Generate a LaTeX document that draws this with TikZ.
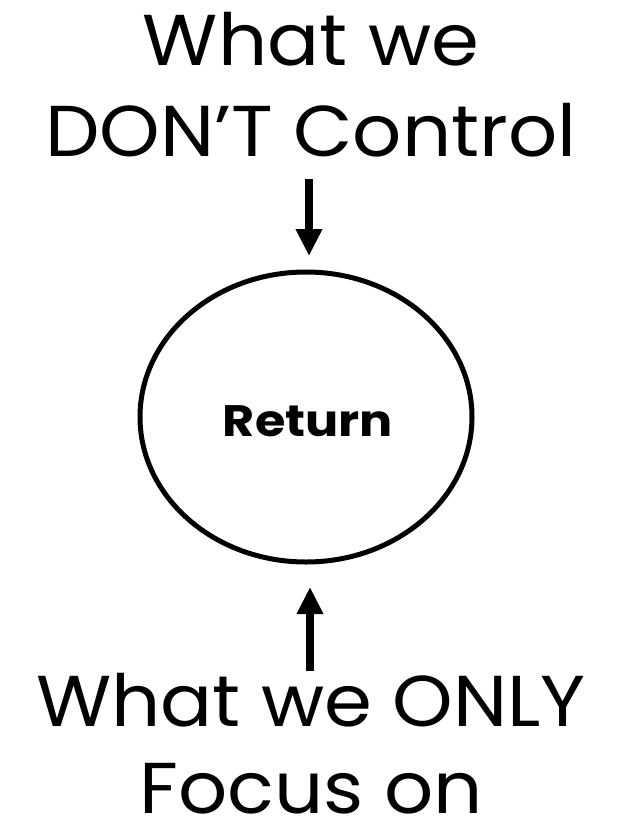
\documentclass[tikz,border=0pt]{standalone}
\usepackage{fontspec}
\setmainfont{Poppins}[FakeStretch=1.07]
\newfontfamily\retfont{Poppins}[FakeStretch=1.12]
\usetikzlibrary{arrows.meta,shapes.geometric}
\begin{document}
\begin{tikzpicture}[x=1pt,y=-1pt,
  big/.style={font=\fontsize{72}{86}\selectfont, inner sep=0pt, anchor=base},
  arr/.style={line width=8pt, -{Triangle[width=25pt,length=27pt]}},
  circ/.style={draw, line width=5pt, ellipse, minimum width=332pt, minimum height=290pt, inner sep=0pt},
  lbl/.style={font=\retfont\fontsize{44}{52}\selectfont\bfseries, inner sep=0pt, anchor=base}]
\useasboundingbox (0,0) rectangle (631,820);
\node[big] (t1) at (311,65) {What we};
\node[big] (t2) at (311,156) {DON’T Control};
\node[circ] (ret) at (306,417) {};
\node[lbl] (rt) at (308,436) {Return};
\node[big] (b1) at (311,726) {What we ONLY};
\node[big] (b2) at (311,813) {Focus on};
\coordinate (a1s) at (309,179);
\coordinate (a1e) at (309,256);
\coordinate (a2s) at (310,671);
\coordinate (a2e) at (310,587);
\draw[arr] (a1s) -- (a1e);
\draw[arr] (a2s) -- (a2e);
\end{tikzpicture}
\end{document}
